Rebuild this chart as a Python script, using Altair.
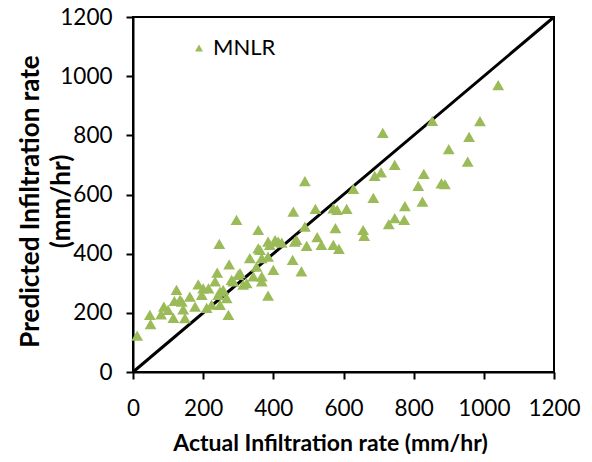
import altair as alt
import pandas as pd

# Data
actual = [12, 50, 48, 80, 88, 100, 115, 124, 118, 134,
          143, 148, 139, 162, 177, 186, 196, 200, 210, 215,
          224, 234, 240, 243, 248, 248, 246, 257, 267, 272,
          274, 281, 286, 295, 300, 305, 314, 324, 333, 343,
          352, 357, 357, 362, 367, 367, 367, 385, 385, 385,
          390, 400, 405, 414, 424, 455, 461, 466, 457, 480,
          490, 490, 495, 520, 525, 537, 571, 582, 609, 571,
          577, 587, 628, 656, 659, 685, 689, 707, 712, 729,
          746, 746, 773, 775, 813, 825, 829, 853, 879, 889,
          900, 954, 958, 989, 1041]
predicted = [123, 162, 193, 195, 221, 210, 183, 278, 240, 244,
             212, 182, 238, 255, 221, 296, 261, 283, 217, 283,
             228, 306, 336, 261, 227, 272, 433, 278, 250, 193,
             364, 311, 306, 514, 328, 334, 295, 300, 385, 323,
             356, 480, 418, 413, 385, 306, 323, 258, 390, 441,
             430, 345, 446, 441, 437, 379, 441, 447, 542, 340,
             491, 645, 426, 551, 456, 430, 553, 548, 551, 430,
             486, 416, 619, 480, 460, 589, 663, 675, 808, 500,
             700, 520, 514, 561, 629, 576, 670, 849, 638, 635,
             753, 711, 795, 848, 970]
series_name = "MNLR"
line_x = [0, 1200]
line_y = [0, 1200]
tick_values = [0, 200, 400, 600, 800, 1000, 1200]

pts = pd.DataFrame({"actual": actual, "predicted": predicted, "series": series_name})
diag_df = pd.DataFrame({"actual": line_x, "predicted": line_y})

FONT = "Lato"
xscale = alt.Scale(domain=[0, 1200], nice=False)
yscale = alt.Scale(domain=[0, 1200], nice=False)

diag = alt.Chart(diag_df).mark_line(color="black", strokeWidth=3).encode(
    x=alt.X("actual:Q", scale=xscale),
    y=alt.Y("predicted:Q", scale=yscale),
)

points = alt.Chart(pts).mark_point(
    shape="triangle-up", filled=True, size=140, opacity=1, strokeWidth=0
).encode(
    x=alt.X(
        "actual:Q", scale=xscale,
        axis=alt.Axis(values=tick_values, format="d", labelOverlap=False, labelFlush=False,
                      labelPadding=18,
                      title="Actual Infiltration rate (mm/hr)",
                      titleX=197, titleY=78, titleBaseline="alphabetic"),
    ),
    y=alt.Y(
        "predicted:Q", scale=yscale,
        axis=alt.Axis(values=tick_values, format="d", labelOverlap=False, labelFlush=False,
                      labelPadding=14,
                      title=["Predicted Infiltration rate", "(mm/hr)"],
                      titleFontSize=26, titleLineHeight=31,
                      titleX=-90, titleY=184, titleBaseline="bottom"),
    ),
    color=alt.Color(
        "series:N",
        scale=alt.Scale(domain=[series_name], range=["#9BBB59"]),
        legend=alt.Legend(
            title=None, orient="none", legendX=55, legendY=20, padding=0,
            symbolType="triangle-up", symbolSize=64, symbolOpacity=1,
            symbolStrokeWidth=0, labelFont=FONT, labelFontSize=22,
            labelColor="black", labelOffset=3,
        ),
    ),
)

chart = alt.layer(diag, points).properties(
    width=421, height=355,
    autosize=alt.AutoSizeParams(type="none"),
    padding={"left": 125, "top": 9, "right": 30, "bottom": 82},
).configure_view(
    stroke="black", strokeWidth=2,
).configure_axis(
    grid=False, domainColor="black", domainWidth=2,
    tickColor="black", tickWidth=2, tickSize=7,
    labelFont=FONT, labelFontSize=22.5, labelColor="black",
    titleFont=FONT, titleFontSize=23, titleFontWeight="bold", titleColor="black",
)

chart.save("out.html", embed_options={"renderer": "svg", "actions": False})
